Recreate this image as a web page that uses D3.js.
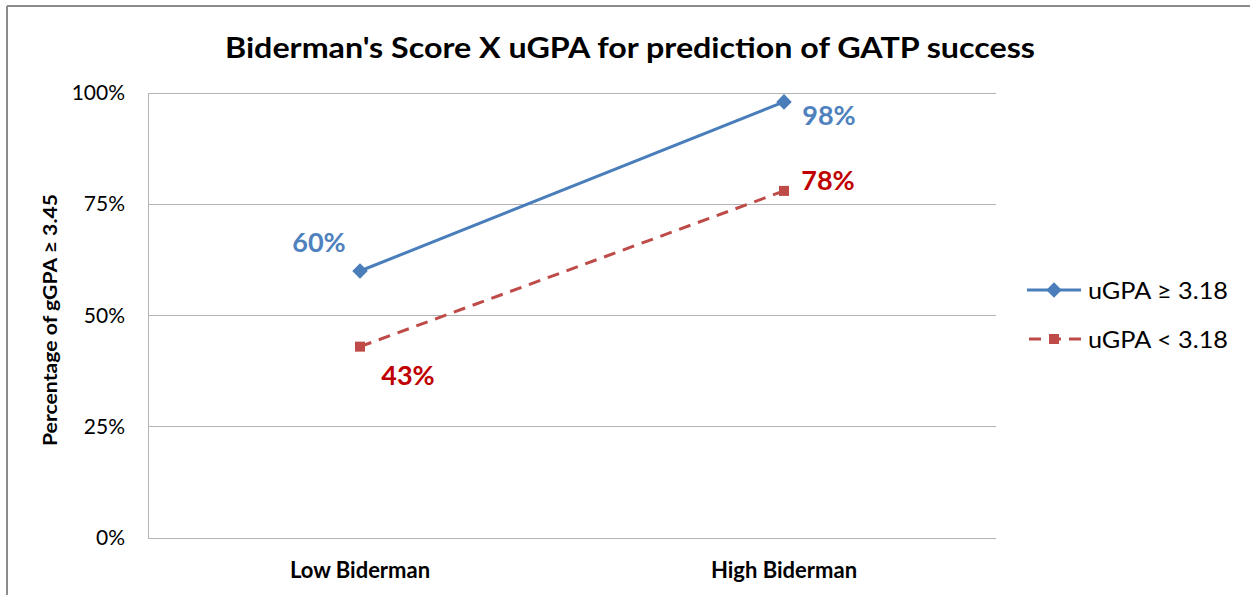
<!DOCTYPE html>
<html><head><meta charset="utf-8">
<script src="https://cdn.jsdelivr.net/npm/d3@7/dist/d3.min.js"></script>
<style>body{margin:0;background:#fff;}svg{display:block;}</style>
</head><body>
<svg id="c" width="1250" height="595"></svg>
<script>
const categories = ["Low Biderman", "High Biderman"];
const seriesHigh = [0.60, 0.98];
const seriesLow = [0.43, 0.78];
const seriesNames = ["uGPA \u2265 3.18", "uGPA < 3.18"];
const yTicks = [0, 0.25, 0.5, 0.75, 1];
const labelsHigh = ["60%", "98%"];
const labelsLow = ["43%", "78%"];

const svg = d3.select("#c");
const font = "Lato, 'Open Sans', sans-serif";
const L = 148, R = 996, T = 93, B = 538;
const blue = "#4A7EBB", red = "#BE4B48", redText = "#C00000", blueText = "#4F81BD";

// frame
svg.append("line").attr("x1",7).attr("x2",1250).attr("y1",6).attr("y2",6).attr("stroke","#8c8c8c").attr("stroke-width",2);
svg.append("line").attr("x1",7).attr("x2",7).attr("y1",6).attr("y2",595).attr("stroke","#8c8c8c").attr("stroke-width",2);

const x = d3.scaleBand().domain(categories).range([L, R]);
const y = d3.scaleLinear().domain([0, 1]).range([B, T]);

// gridlines
svg.append("g").selectAll("line").data(yTicks).join("line")
  .attr("x1", L).attr("x2", R).attr("y1", d => y(d)).attr("y2", d => y(d))
  .attr("stroke", "#b3b3b3").attr("stroke-width", 1).attr("shape-rendering","crispEdges");
svg.append("line").attr("x1",L).attr("x2",L).attr("y1",T).attr("y2",B).attr("stroke","#b3b3b3").attr("shape-rendering","crispEdges");

// y axis
const yAxis = d3.axisLeft(y).tickValues(yTicks).tickFormat(d3.format(".0%")).tickSize(0).tickPadding(23);
const ya = svg.append("g").attr("transform", `translate(${L},0)`).call(yAxis);
ya.select(".domain").remove();
ya.selectAll("text").attr("font-family", font).attr("font-size", 21).attr("fill", "#000");

// x axis
const xAxis = d3.axisBottom(x).tickSize(0).tickPadding(24);
const xa = svg.append("g").attr("transform", `translate(0,${B})`).call(xAxis);
xa.select(".domain").remove();
xa.selectAll("text").attr("font-family", font).attr("font-size", 22).attr("font-weight", "bold").attr("fill", "#000");

// title
svg.append("text").attr("x", 630).attr("y", 58).attr("text-anchor", "middle")
  .attr("font-family", font).attr("font-size", 29).attr("font-weight", "bold").attr("fill", "#000")
  .attr("textLength", 810).attr("lengthAdjust", "spacingAndGlyphs")
  .text("Biderman's Score X uGPA for prediction of GATP success");

// y title
svg.append("text").attr("transform", `translate(57,320) rotate(-90)`).attr("text-anchor", "middle")
  .attr("font-family", font).attr("font-size", 19).attr("font-weight", "bold").attr("fill", "#000")
  .attr("textLength", 252).attr("lengthAdjust", "spacingAndGlyphs")
  .text("Percentage of gGPA \u2265 3.45");

const cx = c => x(c) + x.bandwidth() / 2;
const line = d3.line().x((d, i) => cx(categories[i])).y(d => y(d));

svg.append("path").datum(seriesLow).attr("d", line).attr("fill", "none")
  .attr("stroke", red).attr("stroke-width", 3).attr("stroke-dasharray", "12,8");
svg.append("path").datum(seriesHigh).attr("d", line).attr("fill", "none")
  .attr("stroke", blue).attr("stroke-width", 3);

svg.append("g").selectAll("rect").data(seriesHigh).join("rect")
  .attr("x", -5.5).attr("y", -5.5).attr("width", 11).attr("height", 11)
  .attr("transform", (d, i) => `translate(${cx(categories[i])},${y(d)}) rotate(45)`)
  .attr("fill", blue);
svg.append("g").selectAll("rect").data(seriesLow).join("rect")
  .attr("x", (d, i) => cx(categories[i]) - 5).attr("y", d => y(d) - 5)
  .attr("width", 10).attr("height", 10).attr("fill", red);

// data labels
const offHigh = [[-41, -19], [45, 23]];
const offLow = [[48, 38], [44, -1]];
svg.append("g").selectAll("text").data(seriesHigh).join("text")
  .attr("x", (d, i) => cx(categories[i]) + offHigh[i][0]).attr("y", (d, i) => y(d) + offHigh[i][1])
  .attr("text-anchor", "middle").attr("font-family", font).attr("font-size", 27).attr("font-weight", "bold")
  .attr("fill", blueText).text((d, i) => labelsHigh[i]);
svg.append("g").selectAll("text").data(seriesLow).join("text")
  .attr("x", (d, i) => cx(categories[i]) + offLow[i][0]).attr("y", (d, i) => y(d) + offLow[i][1])
  .attr("text-anchor", "middle").attr("font-family", font).attr("font-size", 27).attr("font-weight", "bold")
  .attr("fill", redText).text((d, i) => labelsLow[i]);

// legend
const leg = svg.append("g");
const legY = [290, 339];
leg.append("line").attr("x1", 1027).attr("x2", 1081).attr("y1", legY[0]).attr("y2", legY[0]).attr("stroke", blue).attr("stroke-width", 3);
leg.append("rect").attr("x", -5.5).attr("y", -5.5).attr("width", 11).attr("height", 11)
  .attr("transform", `translate(1054,${legY[0]}) rotate(45)`).attr("fill", blue);
leg.append("line").attr("x1", 1027).attr("x2", 1081).attr("y1", legY[1]).attr("y2", legY[1]).attr("stroke", red).attr("stroke-width", 3).attr("stroke-dasharray", "12,8").attr("stroke-dashoffset", -2);
leg.append("rect").attr("x", 1049).attr("y", legY[1] - 5).attr("width", 10).attr("height", 10).attr("fill", red);
leg.selectAll("text").data(seriesNames).join("text")
  .attr("x", 1088).attr("y", (d, i) => legY[i] + 9)
  .attr("font-family", font).attr("font-size", 24).attr("fill", "#000")
  .attr("textLength", 140).attr("lengthAdjust", "spacingAndGlyphs")
  .text(d => d);
</script>
</body></html>
